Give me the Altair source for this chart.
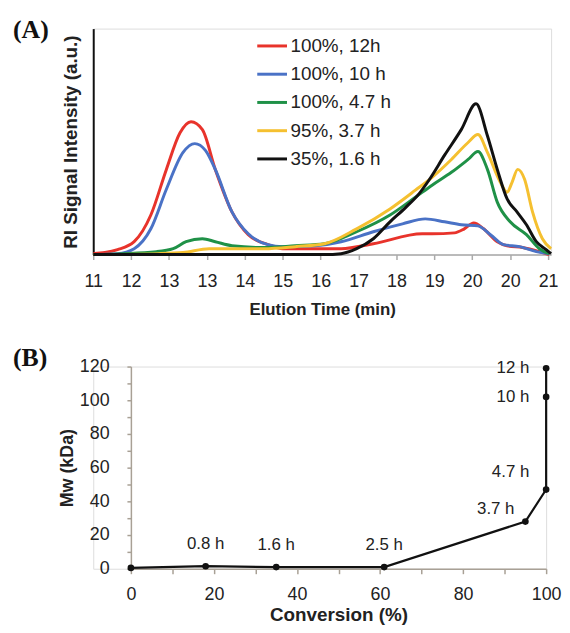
import altair as alt
import pandas as pd

# ---------------- Panel A data ----------------
x_tick_labels = ["11", "12", "13", "13", "14", "15", "16", "17", "18", "19", "20", "20", "21"]
series_names = ["100%, 12h", "100%, 10 h", "100%, 4.7 h", "95%, 3.7 h", "35%, 1.6 h"]
series_colors = ["#e8332b", "#4a72c6", "#1f9147", "#f5c030", "#111111"]

red_x = [0, 0.31, 0.64, 1.08, 1.52, 1.93, 2.29, 2.58, 2.88, 3.22, 3.66, 4.09, 4.61, 5.0, 6.54, 7.39, 8.68, 8.94, 9.53, 9.79, 10.04, 10.30, 10.66, 10.92, 11.33, 11.77, 12.03]
red_y = [0.4, 0.9, 2.2, 5.7, 17.5, 37.7, 53.9, 58.8, 55.3, 37.7, 18.9, 8.8, 4.4, 2.6, 2.6, 4.8, 9.2, 9.2, 9.6, 11.4, 14.0, 11.4, 5.7, 3.9, 3.1, 1.3, 0.0]

blue_x = [0, 0.64, 1.08, 1.52, 1.93, 2.37, 2.68, 2.96, 3.22, 3.66, 4.09, 4.61, 5.0, 5.85, 6.54, 7.39, 8.16, 8.76, 9.27, 9.71, 10.15, 10.48, 10.82, 11.25, 11.69, 12.03]
blue_y = [0.0, 0.4, 2.6, 11.4, 28.9, 45.2, 49.1, 46.1, 37.7, 18.9, 9.2, 4.4, 3.5, 3.9, 5.7, 10.1, 13.6, 15.8, 14.5, 13.2, 12.7, 8.8, 4.4, 3.5, 1.3, 0.4]

green_x = [0, 1.67, 2.11, 2.45, 2.88, 3.22, 3.66, 4.51, 5.33, 6.10, 6.95, 7.83, 8.50, 8.94, 9.45, 9.89, 10.15, 10.40, 10.66, 11.00, 11.43, 11.77, 12.03]
green_y = [0.0, 1.3, 2.6, 5.7, 7.0, 5.7, 3.9, 3.1, 3.9, 4.8, 10.1, 17.5, 25.4, 30.7, 36.4, 42.1, 45.6, 37.7, 23.2, 14.5, 8.8, 2.6, 0.4]

yellow_x = [0, 1.73, 2.37, 3.06, 4.51, 5.33, 6.10, 6.95, 7.83, 8.50, 8.94, 9.45, 9.89, 10.15, 10.40, 10.74, 10.92, 11.05, 11.20, 11.38, 11.59, 11.85, 12.08]
yellow_y = [0.0, 0.4, 0.9, 2.6, 2.6, 3.5, 4.8, 11.4, 20.2, 28.5, 34.2, 42.1, 49.6, 53.1, 45.2, 32.0, 27.6, 32.0, 37.7, 33.3, 18.9, 7.0, 2.6]

black_x = [0, 6.10, 6.54, 6.95, 7.39, 7.83, 8.24, 8.60, 8.86, 9.27, 9.71, 10.10, 10.40, 10.66, 10.92, 11.18, 11.43, 11.69, 11.95, 12.08]
black_y = [0.0, 0.0, 0.4, 2.6, 7.0, 14.5, 20.8, 27.0, 33.0, 44.0, 55.3, 66.7, 52.6, 37.7, 24.6, 18.9, 13.2, 5.7, 2.2, 0.4]

# ---------------- Panel B data ----------------
conversion = [0, 18, 35, 61, 95, 100, 100, 100]
mw_kda = [0.5, 1.5, 1.0, 1.0, 28, 47, 102, 119]
time_labels = ["", "0.8 h", "1.6 h", "2.5 h", "3.7 h", "4.7 h", "10 h", "12 h"]

FONT = "Liberation Sans"
TXT = "#222222"

# ---------------- Build panel A ----------------
rows = []
for name, xs, ys in zip(series_names,
                        [red_x, blue_x, green_x, yellow_x, black_x],
                        [red_y, blue_y, green_y, yellow_y, black_y]):
    for xv, yv in zip(xs, ys):
        rows.append({"series": name, "pos": xv, "signal": yv})
df_a = pd.DataFrame(rows)

label_arr = "[" + ",".join("'" + s + "'" for s in x_tick_labels) + "]"

lines_a = alt.Chart(df_a).mark_line(strokeWidth=3, interpolate="monotone").encode(
    x=alt.X("pos:Q",
            scale=alt.Scale(domain=[0, 12.08], nice=False, zero=False),
            axis=alt.Axis(values=list(range(len(x_tick_labels))),
                          labelExpr=label_arr + "[datum.value]",
                          labelFlush=False, labelOverlap=False,
                          title="Elution Time (min)", grid=False,
                          domainColor="#aaaaaa", domainWidth=1.5,
                          tickColor="#aaaaaa", tickSize=5, tickWidth=1.5,
                          labelFontSize=18, labelColor=TXT, labelFont=FONT,
                          labelPadding=13, titlePadding=11,
                          titleFontSize=17, titleFont=FONT, titleFontWeight="bold",
                          titleColor=TXT)),
    y=alt.Y("signal:Q",
            scale=alt.Scale(domain=[0, 100], nice=False),
            axis=alt.Axis(labels=False, ticks=False, grid=False,
                          domainColor="#111111", domainWidth=2,
                          title="RI Signal Intensity (a.u.)", titlePadding=13,
                          titleFontSize=19, titleFont=FONT, titleFontWeight="bold",
                          titleColor=TXT)),
    color=alt.Color("series:N",
                    scale=alt.Scale(domain=series_names, range=series_colors),
                    sort=series_names,
                    legend=alt.Legend(title=None, orient="none", legendX=164, legendY=1,
                                      symbolType="stroke", symbolSize=900,
                                      symbolStrokeWidth=3, rowPadding=1.5,
                                      labelFontSize=19, labelFont=FONT, labelColor=TXT,
                                      labelOffset=2, padding=0)),
)

tag_a = alt.Chart(pd.DataFrame({"t": ["(A)"]})).mark_text(
    font="Liberation Serif", fontWeight="bold", fontSize=26, align="left",
    baseline="top", color="#111111"
).encode(text="t:N", x=alt.value(-81), y=alt.value(-12))

panel_a = alt.layer(lines_a, tag_a).properties(width=462, height=228)

# ---------------- Build panel B ----------------
df_b = pd.DataFrame({"conv": conversion, "mw": mw_kda, "label": time_labels,
                     "step": list(range(len(conversion)))})

xb = alt.X("conv:Q", scale=alt.Scale(domain=[0, 100], nice=False, range=[38, 457]),
           axis=alt.Axis(values=list(range(0, 101, 10)),
                         labelExpr="datum.value % 20 == 0 ? datum.label : ''",
                         labelFlush=False, labelOverlap=False,
                         title="Conversion (%)", grid=False,
                         domainColor="#a8a095", domainWidth=1.5,
                         tickColor="#a8a095", tickSize=5, tickWidth=1.5,
                         labelFontSize=18, labelColor=TXT, labelFont=FONT,
                         labelPadding=12, titlePadding=2,
                         titleFontSize=19, titleFont=FONT, titleFontWeight="bold",
                         titleColor=TXT))
yb = alt.Y("mw:Q", scale=alt.Scale(domain=[0, 120], nice=False),
           axis=alt.Axis(values=list(range(0, 121, 10)),
                         labelExpr="datum.value % 20 == 0 ? datum.label : ''",
                         labelFlush=False, labelOverlap=False, offset=-38,
                         title="Mw (kDa)", grid=False,
                         domainColor="#a8a095", domainWidth=1.5,
                         tickColor="#a8a095", tickSize=4, tickWidth=1.5,
                         labelFontSize=18, labelColor=TXT, labelFont=FONT,
                         labelPadding=18, titlePadding=3,
                         titleFontSize=18, titleFont=FONT, titleFontWeight="bold",
                         titleColor=TXT))

base_b = alt.Chart(df_b)
line_b = base_b.mark_line(color="#111111", strokeWidth=2.2).encode(x=xb, y=yb, order="step:Q")
pts_b = base_b.mark_circle(color="#111111", size=45, opacity=1).encode(x=xb, y=yb)


def labels(names, **kw):
    cond = "indexof([" + ",".join("'" + n + "'" for n in names) + "], datum.label) >= 0"
    return base_b.transform_filter(cond).mark_text(
        font=FONT, fontSize=17, color=TXT, baseline="middle", **kw
    ).encode(x=xb, y=yb, text="label:N")


lab_above = labels(["0.8 h", "1.6 h", "2.5 h"], align="center", dy=-22)
lab_37 = labels(["3.7 h"], align="right", dx=-11, dy=-13)
lab_47 = labels(["4.7 h"], align="right", dx=-17, dy=-18)
lab_side = labels(["10 h", "12 h"], align="right", dx=-17, dy=0)

tag_b = alt.Chart(pd.DataFrame({"t": ["(B)"]})).mark_text(
    font="Liberation Serif", fontWeight="bold", fontSize=26, align="left",
    baseline="top", color="#111111"
).encode(text="t:N", x=alt.value(-81), y=alt.value(-22))

panel_b = alt.layer(line_b, pts_b, lab_above, lab_37, lab_47, lab_side, tag_b).properties(
    width=457, height=204)

chart = alt.vconcat(panel_a, panel_b, spacing=26).resolve_legend(
    color="independent"
).properties(
    padding={"left": 4, "top": 5, "right": 0, "bottom": 0}
).configure_view(stroke=None).configure(background="white")

chart.save("out.html", embed_options={"renderer": "svg", "actions": False})
